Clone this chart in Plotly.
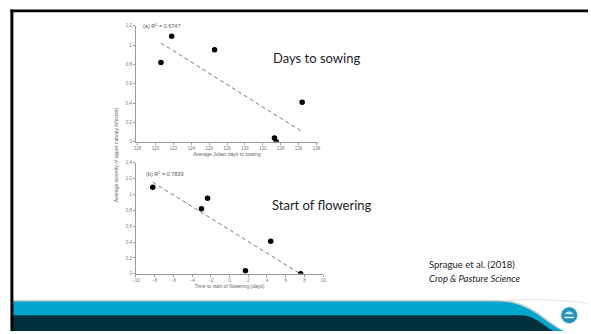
import numpy as np
import plotly.graph_objects as go

W, H = 591, 334

# ---- data ----
sow_days = [120.6, 121.8, 126.6, 133.3, 133.5, 136.4]
sow_sev = [0.82, 1.09, 0.95, 0.04, 0.0, 0.41]
flow_days = [-8.2, -3.0, -2.35, 1.7, 4.4, 7.6]
flow_sev = [1.09, 0.82, 0.95, 0.04, 0.41, 0.0]
r2_a = "0.6747"
r2_b = "0.7839"
x_ticks_a = [118, 120, 122, 124, 126, 128, 130, 132, 134, 136, 138]
x_ticks_b = [-10, -8, -6, -4, -2, 0, 2, 4, 6, 8, 10]
y_ticks_a = [0, 0.2, 0.4, 0.6, 0.8, 1, 1.2]
y_ticks_b = [0, 0.2, 0.4, 0.6, 0.8, 1, 1.2, 1.4]


def px(x):
    return x / W


def py(y):
    return 1 - y / H


def fit_line(xs, ys):
    m, c = np.polyfit(xs, ys, 1)
    xl = [min(xs), max(xs)]
    return xl, [m * v + c for v in xl]


fig = go.Figure()

for xs, ys, xa, ya in [(sow_days, sow_sev, "x", "y"), (flow_days, flow_sev, "x2", "y2")]:
    lx, ly = fit_line(xs, ys)
    fig.add_trace(go.Scatter(x=lx, y=ly, mode="lines", xaxis=xa, yaxis=ya,
                             line=dict(color="#7a7a7a", width=1, dash="4px,3px"),
                             showlegend=False, hoverinfo="skip"))
    fig.add_trace(go.Scatter(x=xs, y=ys, mode="markers", xaxis=xa, yaxis=ya,
                             marker=dict(color="black", size=5.5),
                             showlegend=False))

tick_font = dict(family="Liberation Sans", size=4.5, color="#777")
axis_common = dict(showgrid=False, zeroline=False, showline=True, linecolor="#9a9a9a",
                   linewidth=1, ticks="outside", ticklen=2, tickcolor="#9a9a9a",
                   tickfont=tick_font)

fig.update_layout(
    width=W, height=H, margin=dict(l=0, r=0, t=0, b=0),
    paper_bgcolor="white", plot_bgcolor="rgba(0,0,0,0)",
    xaxis=dict(domain=[px(133.5), px(318)], range=[117.8, 138.2], tickvals=x_ticks_a,
               anchor="y", title=dict(text="Average Julian days to sowing",
                                      font=dict(family="Liberation Sans", size=5, color="#666"),
                                      standoff=2), **axis_common),
    yaxis=dict(domain=[py(142), py(24)], range=[0, 1.2], tickvals=y_ticks_a,
               anchor="x", **axis_common),
    xaxis2=dict(domain=[px(133.5), px(323)], range=[-10, 10], tickvals=x_ticks_b,
                anchor="y2", title=dict(text="Time to start of flowering (days)",
                                        font=dict(family="Liberation Sans", size=5, color="#666"),
                                        standoff=2), **axis_common),
    yaxis2=dict(domain=[py(276), py(163)], range=[0, 1.4], tickvals=y_ticks_b,
                anchor="x2", **axis_common),
)

annotations = [
    dict(text="(a) R<sup>2</sup> = " + r2_a, x=px(139), y=py(24), xanchor="left", yanchor="middle",
         font=dict(family="Liberation Sans", size=5.5, color="#555")),
    dict(text="(b) R<sup>2</sup> = " + r2_b, x=px(142), y=py(175), xanchor="left", yanchor="middle",
         font=dict(family="Liberation Sans", size=5.5, color="#555")),
    dict(text="Average severity of upper canopy infection", x=px(113), y=py(155),
         textangle=-90, xanchor="center", yanchor="middle",
         font=dict(family="Liberation Sans", size=5, color="#666")),
    dict(text="Days to sowing", x=px(270), y=py(57), xanchor="left", yanchor="middle",
         font=dict(family="Lato", size=13, color="#222")),
    dict(text="Start of flowering", x=px(269), y=py(206), xanchor="left", yanchor="middle",
         font=dict(family="Lato", size=13, color="#222")),
    dict(text="Sprague et al. (2018)", x=px(428), y=py(266), xanchor="left", yanchor="middle",
         font=dict(family="Lato", size=9.5, color="#222")),
    dict(text="<i>Crop &amp; Pasture Science</i>", x=px(428), y=py(281), xanchor="left",
         yanchor="middle", font=dict(family="Lato", size=9.5, color="#222")),
]
for a in annotations:
    a.update(xref="paper", yref="paper", showarrow=False)
fig.update_layout(annotations=annotations)

shapes = []
# bottom bands
shapes.append(dict(type="path", xref="paper", yref="paper",
                   path=f"M {px(8)},{py(302.5)} L {px(500)},{py(302.5)} "
                        f"C {px(535)},{py(302.5)} {px(548)},{py(325)} {px(568)},{py(334)} "
                        f"L {px(8)},{py(334)} Z",
                   fillcolor="#cfcfcf", line=dict(width=0), layer="above"))
shapes.append(dict(type="path", xref="paper", yref="paper",
                   path=f"M {px(8)},{py(304)} L {px(500)},{py(304)} "
                        f"C {px(533)},{py(304)} {px(546)},{py(325)} {px(566)},{py(334)} "
                        f"L {px(8)},{py(334)} Z",
                   fillcolor="#00a6cb", line=dict(width=0), layer="above"))
shapes.append(dict(type="path", xref="paper", yref="paper",
                   path=f"M {px(8)},{py(318)} L {px(522)},{py(318)} "
                        f"C {px(538)},{py(318)} {px(546)},{py(329)} {px(556)},{py(334)} "
                        f"L {px(8)},{py(334)} Z",
                   fillcolor="#02303c", line=dict(width=0), layer="above"))
# faint swoosh edge on the right
shapes.append(dict(type="path", xref="paper", yref="paper",
                   path=f"M {px(505)},{py(303)} C {px(540)},{py(301)} {px(570)},{py(303)} {px(591)},{py(306)}",
                   line=dict(color="#e2e2e2", width=1), layer="above"))
# logo
shapes.append(dict(type="circle", xref="paper", yref="paper",
                   x0=px(563.5), x1=px(580.5), y0=py(326.5), y1=py(309.5),
                   fillcolor="#1d93bb", line=dict(color="#d8e8ee", width=1), layer="above"))
shapes.append(dict(type="path", xref="paper", yref="paper",
                   path=f"M {px(567)},{py(317)} Q {px(572)},{py(311)} {px(577)},{py(317)} Z",
                   fillcolor="#bfe3ef", line=dict(width=0), layer="above"))
shapes.append(dict(type="rect", xref="paper", yref="paper",
                   x0=px(567), x1=px(577), y0=py(321), y1=py(319.5),
                   fillcolor="#e8f4f8", line=dict(width=0), layer="above"))
# frame lines
shapes.append(dict(type="rect", xref="paper", yref="paper",
                   x0=px(6.5), x1=1, y0=py(10.5), y1=py(7.5),
                   fillcolor="black", line=dict(width=0), layer="above"))
shapes.append(dict(type="rect", xref="paper", yref="paper",
                   x0=px(6.5), x1=px(9.5), y0=0, y1=py(7.5),
                   fillcolor="black", line=dict(width=0), layer="above"))
fig.update_layout(shapes=shapes)

fig.write_html("out.html", config={"displayModeBar": False},
               post_script="document.body.style.margin='0';document.body.style.overflow='hidden';")
